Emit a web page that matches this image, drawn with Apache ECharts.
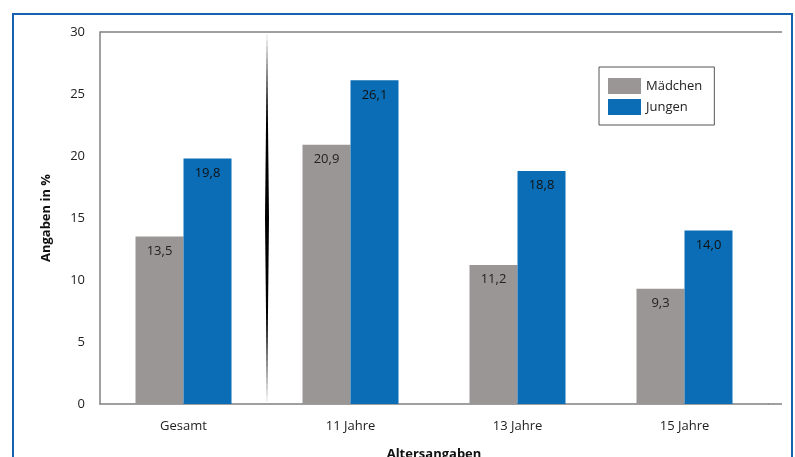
<!DOCTYPE html>
<html>
<head>
<meta charset="utf-8">
<script src="https://cdn.jsdelivr.net/npm/echarts@6/dist/echarts.min.js"></script>
<style>
  html, body { margin: 0; padding: 0; background: #fff; }
  #chart { width: 795px; height: 457px; }
</style>
</head>
<body>
<div id="chart"></div>
<script>
const categories = ["Gesamt", "11 Jahre", "13 Jahre", "15 Jahre"];
const maedchen = [13.5, 20.9, 11.2, 9.3];
const jungen = [19.8, 26.1, 18.8, 14.0];
const yTicks = [0, 5, 10, 15, 20, 25, 30];

const GRAY = "#9a9695";
const BLUE = "#0a6db5";
const AXIS = "#808080";
const FONT = "'Open Sans', 'Noto Sans', sans-serif";

const chart = echarts.init(document.getElementById("chart"));

const fmt = (p) => p.value.toFixed(1).replace(".", ",");

chart.setOption({
  animation: false,
  backgroundColor: "#fff",
  textStyle: { fontFamily: FONT },
  grid: { left: 100, top: 32, width: 668, height: 372, outerBoundsMode: "none", containLabel: false },
  legend: {
    data: ["Mädchen", "Jungen"],
    orient: "vertical",
    left: 599,
    top: 67,
    width: 119,
    padding: [11, 12, 10, 9],
    itemWidth: 33,
    itemHeight: 16,
    itemGap: 5,
    icon: "rect",
    borderColor: "#555",
    borderWidth: 1,
    textStyle: { fontSize: 13, color: "#222", fontFamily: FONT },
  },
  xAxis: {
    type: "category",
    data: categories,
    name: "Altersangaben",
    nameLocation: "middle",
    nameGap: 44,
    nameTextStyle: { fontSize: 13, fontWeight: "bold", color: "#111", fontFamily: FONT },
    axisLine: { show: true, lineStyle: { color: AXIS, width: 1.5 } },
    axisTick: { show: false },
    axisLabel: { fontSize: 13, color: "#222", margin: 16 },
  },
  yAxis: {
    type: "value",
    min: yTicks[0],
    max: yTicks[yTicks.length - 1],
    interval: 5,
    name: "Angaben in %",
    nameLocation: "middle",
    nameGap: 47,
    nameTextStyle: { fontSize: 13, fontWeight: "bold", color: "#111", fontFamily: FONT },
    axisLine: { show: true, lineStyle: { color: AXIS, width: 1.5 } },
    axisTick: { show: false },
    splitLine: { show: false },
    axisLabel: { fontSize: 13, color: "#222", margin: 15 },
  },
  series: [
    {
      name: "Mädchen",
      type: "bar",
      data: maedchen,
      barWidth: 48,
      barGap: "0%",
      itemStyle: { color: GRAY },
      label: { show: true, position: "insideTop", distance: 8, fontSize: 13, color: "#222", formatter: fmt },
    },
    {
      name: "Jungen",
      type: "bar",
      data: jungen,
      barWidth: 48,
      itemStyle: { color: BLUE },
      label: { show: true, position: "insideTop", distance: 8, fontSize: 13, color: "#111", formatter: fmt },
    },
  ],
});

// decorations: frame, top rule, axis extension, break divider
const x0 = chart.convertToPixel({ xAxisIndex: 0 }, 0);
const x1 = chart.convertToPixel({ xAxisIndex: 0 }, 1);
const yTop = chart.convertToPixel({ yAxisIndex: 0 }, yTicks[yTicks.length - 1]);
const yBot = chart.convertToPixel({ yAxisIndex: 0 }, yTicks[0]);
const xm = (x0 + x1) / 2;
const ym = (yTop + yBot) / 2;

chart.setOption({
  graphic: [
    {
      type: "rect",
      shape: { x: 13, y: 14, width: 779, height: 470 },
      style: { fill: "none", stroke: "#1563b0", lineWidth: 2 },
      silent: true,
    },
    {
      type: "line",
      shape: { x1: 100, y1: yTop, x2: 782, y2: yTop },
      style: { stroke: AXIS, lineWidth: 1.5 },
      silent: true,
    },
    {
      type: "line",
      shape: { x1: 768, y1: yBot, x2: 782, y2: yBot },
      style: { stroke: AXIS, lineWidth: 1.5 },
      silent: true,
    },
    {
      type: "polygon",
      shape: { points: [[xm, yTop], [xm + 2, ym], [xm, yBot], [xm - 2, ym]] },
      style: { fill: "#000" },
      silent: true,
      z: 10,
    },
  ],
});
</script>
</body>
</html>
